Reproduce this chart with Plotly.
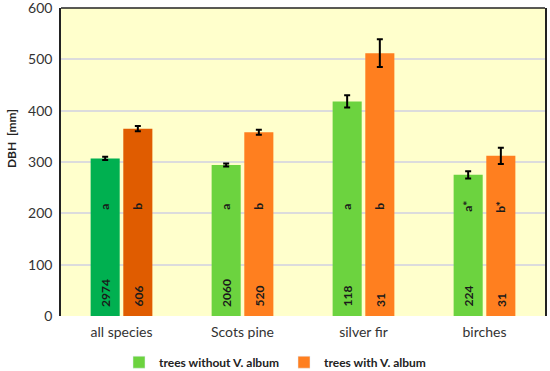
import plotly.graph_objects as go

categories = ["all species", "Scots pine", "silver fir", "birches"]
without_vals = [307, 294, 418, 275]
without_err = [3, 3, 12, 7]
with_vals = [365, 358, 512, 312]
with_err = [5, 5, 27, 16]
without_n = ["2974", "2060", "118", "224"]
with_n = ["606", "520", "31", "31"]
without_letter = ["a", "a", "a", "a*"]
with_letter = ["b", "b", "b", "b*"]
letter_y = 213
y_ticks = [0, 100, 200, 300, 400, 500, 600]

FONT = "Lato, 'Open Sans', sans-serif"
green_cols = ["#00B050", "#6CD33F", "#6CD33F", "#6CD33F"]
orange_cols = ["#E05C00", "#FF7F1F", "#FF7F1F", "#FF7F1F"]

fig = go.Figure()
fig.add_trace(go.Bar(
    x=categories, y=without_vals, name="trees without V. album",
    marker=dict(color=green_cols, line=dict(width=0)),
    error_y=dict(type="data", array=without_err, color="black", thickness=2, width=3),
    offsetgroup="a", showlegend=False,
))
fig.add_trace(go.Bar(
    x=categories, y=with_vals, name="trees with V. album",
    marker=dict(color=orange_cols, line=dict(width=0)),
    error_y=dict(type="data", array=with_err, color="black", thickness=2, width=3),
    offsetgroup="b", showlegend=False,
))
fig.add_trace(go.Bar(x=[None], y=[None], name="trees without V. album", marker_color="#6CD33F"))
fig.add_trace(go.Bar(x=[None], y=[None], name="trees with V. album", marker_color="#FF7F1F"))

for cat, lw, lb, nw, nb in zip(categories, without_letter, with_letter, without_n, with_n):
    for lab, n, shift in ((lw, nw, -16.5), (lb, nb, 16.5)):
        fig.add_annotation(x=cat, y=letter_y, text=f"<b>{lab}</b>", showarrow=False,
                           textangle=-90, xshift=shift,
                           font=dict(family=FONT, size=12, color="#1a1a1a"))
        fig.add_annotation(x=cat, y=0, text=f"<b>{n}</b>", showarrow=False,
                           textangle=-90, xshift=shift, yanchor="bottom", yshift=7,
                           font=dict(family=FONT, size=12, color="#1a1a1a"))

fig.add_annotation(xref="paper", yref="paper", x=-0.101, y=0.575, xanchor="center", yanchor="middle",
                   text="<b>DBH  [mm]</b>", textangle=-90, showarrow=False,
                   font=dict(family=FONT, size=12, color="#222"))

fig.add_shape(type="line", xref="paper", yref="paper", x0=0, x1=1, y0=1, y1=1,
              line=dict(color="#222", width=1.5))

fig.update_layout(
    width=550, height=371,
    margin=dict(l=61, r=5, t=8, b=55, autoexpand=False),
    paper_bgcolor="white", plot_bgcolor="#FFFFCC",
    barmode="group", bargap=0.46, bargroupgap=0.11,
    font=dict(family=FONT, size=14, color="#333"),
    showlegend=True,
    legend=dict(orientation="h", xref="container", x=0.5, xanchor="center",
                yref="paper", y=-0.15, yanchor="middle",
                font=dict(family=FONT, size=12, color="#222", weight="bold"),
                itemwidth=30, traceorder="normal"),
    yaxis=dict(range=[0, 600], tickvals=y_ticks, showgrid=True, gridcolor="#DCDCDC", gridwidth=1.5,
               showline=True, linecolor="#222", linewidth=1.5, mirror=True, ticks="",
               zeroline=False, tickfont=dict(size=14, color="#333"), automargin=False,
               ticklabeloverflow="allow", ticklabelstandoff=4),
    xaxis=dict(showline=False, ticks="", tickfont=dict(size=14, color="#333"), automargin=False,
               ticklabelstandoff=6),
)

fig.write_html("out.html", config={"displayModeBar": False},
               post_script="document.body.style.margin='0';")
